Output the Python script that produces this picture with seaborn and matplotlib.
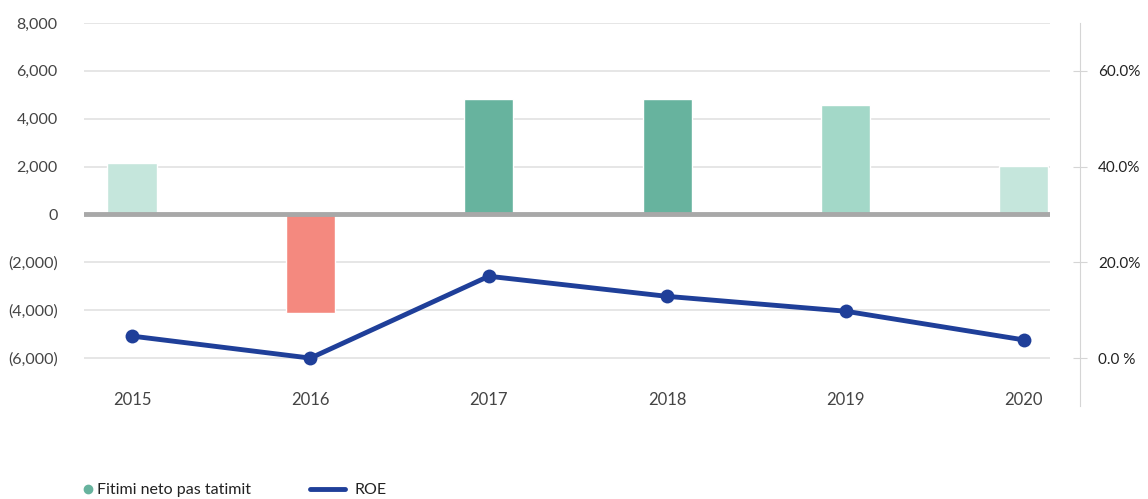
import numpy as np
import pandas as pd
import seaborn as sns
import matplotlib.pyplot as plt
from matplotlib.lines import Line2D
from matplotlib.ticker import FuncFormatter

## Net profit after tax (bars, left axis) vs ROE (line, right axis)

years = ["2015", "2016", "2017", "2018", "2019", "2020"]
profit = [2150, -4120, 4820, 4820, 4570, 2020]
roe = [4.6, 0.0, 17.1, 12.9, 9.8, 3.8]
bar_colors = ["#c5e6dc", "#f4897f", "#67b39e", "#67b39e", "#a3d8c8", "#c5e6dc"]
left_ticks = [-6000, -4000, -2000, 0, 2000, 4000, 6000, 8000]
right_ticks = [0, 20, 40, 60]
right_labels = ["0.0 %", "20.0%", "40.0%", "60.0%"]

df = pd.DataFrame({"Year": years, "Profit": profit, "ROE": roe})

sns.set_style("white")
plt.rcParams["font.family"] = ["Lato", "DejaVu Sans"]

fig = plt.figure(figsize=(11.48, 4.99), dpi=100)
ax = fig.add_axes([0.0732, 0.1864, 0.8414, 0.7675])

sns.barplot(data=df, x="Year", y="Profit", hue="Year", palette=bar_colors,
            saturation=1, width=0.275, legend=False, ax=ax, zorder=2)
ax.set_ylim(-8000, 8000)
ax.set_xlim(-0.269, 5.146)
ax.set_yticks(left_ticks)
ax.yaxis.set_major_formatter(FuncFormatter(
    lambda v, p: "0" if v == 0 else (f"{v:,.0f}" if v > 0 else f"({-v:,.0f})")))
ax.grid(axis="y", color="#e2e2e2", lw=1.2, zorder=0)
ax.axhline(0, color="#a8a8a8", lw=3.5, zorder=3)
ax.set_xlabel("")
ax.set_ylabel("")
for s in ax.spines.values():
    s.set_visible(False)
ax.tick_params(axis="y", length=0, pad=19, labelsize=11.5, labelcolor="#444444")
ax.tick_params(axis="x", length=0, pad=-10, labelsize=12, labelcolor="#444444")

ax2 = ax.twinx()
sns.lineplot(x=np.arange(len(years)), y=roe, ax=ax2, color="#1f3f99", lw=3.5,
             marker="o", markersize=10, markeredgewidth=0, zorder=4)
ax2.set_ylim(-10, 70)
ax2.set_yticks(right_ticks)
ax2.set_yticklabels(right_labels)
for name, s in ax2.spines.items():
    s.set_visible(name == "right")
ax2.spines["right"].set_position(("outward", 21.6))
ax2.spines["right"].set_color("#d5d5d5")
ax2.tick_params(axis="y", direction="inout", length=10, color="#d5d5d5",
                pad=8, labelsize=11, labelcolor="#222222")
ax2.set_ylabel("")

h1 = Line2D([], [], marker="o", ls="", color="#67b39e", markersize=6)
h2 = Line2D([], [], color="#1f3f99", lw=3.5)
fig.legend([h1], ["Fitimi neto pas tatimit"], loc="center left",
           bbox_to_anchor=(0.0732, 0.018), frameon=False, borderpad=0,
           borderaxespad=0, handlelength=0.5, handletextpad=0.3,
           fontsize=11.5, labelcolor="#222222")
fig.legend([h2], ["ROE"], loc="center left", bbox_to_anchor=(0.27, 0.018),
           frameon=False, borderpad=0, borderaxespad=0, handlelength=2.2,
           handletextpad=0.6, fontsize=11.5, labelcolor="#222222")

fig.savefig("out.png", dpi=100)
